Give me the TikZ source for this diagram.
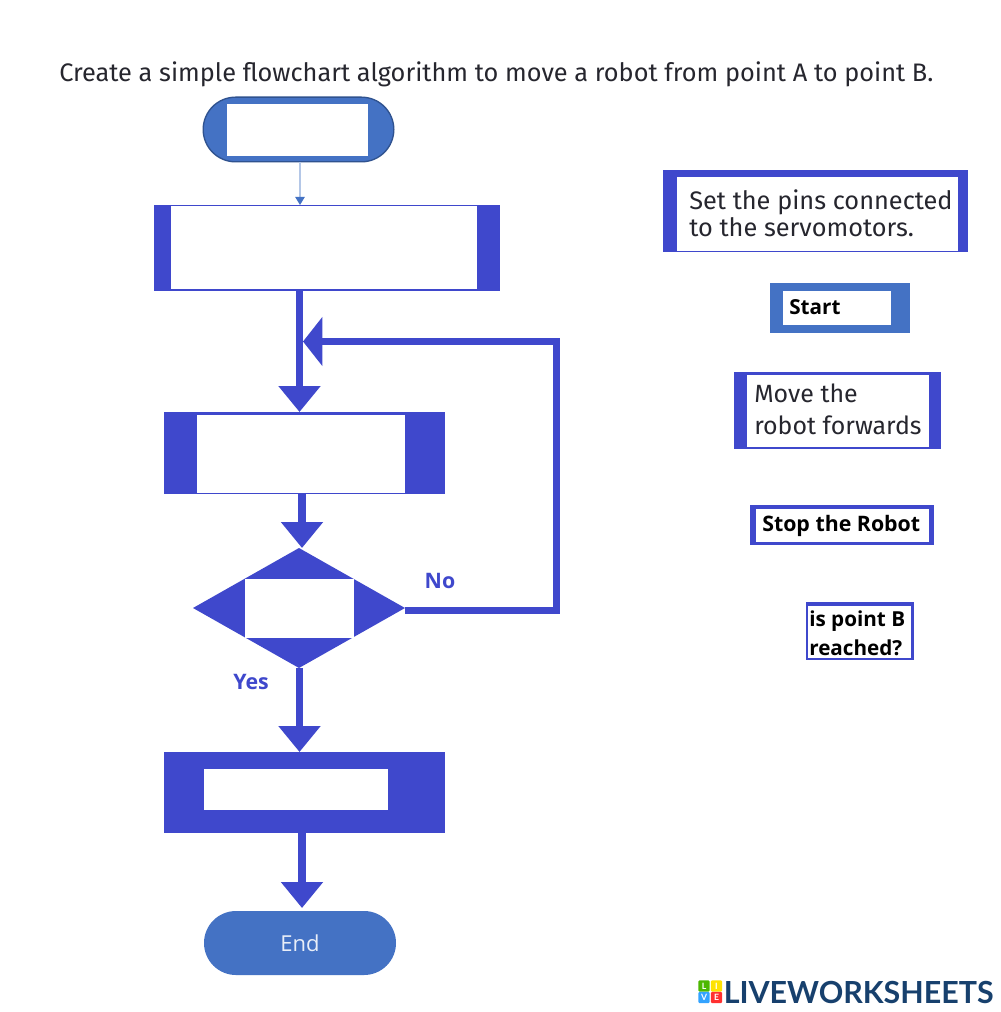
\documentclass[tikz,border=0pt]{standalone}
\usepackage{fontspec}
\setmainfont{Fira Sans}
\newfontfamily\boldui{Open Sans}
\newfontfamily\logofont{Lato}
\usetikzlibrary{shapes.geometric,shapes.misc,arrows.meta}
\definecolor{indigo}{HTML}{3F48CC}
\definecolor{steel}{HTML}{4472C4}
\definecolor{steeldark}{HTML}{2F528F}
\definecolor{palearrow}{HTML}{B4C7E7}
\definecolor{ink}{HTML}{26262E}
\definecolor{logoblue}{HTML}{17406D}
\begin{document}
\begin{tikzpicture}[x=0.75pt,y=-0.75pt,
  pane/.style={draw=none,fill=indigo,inner sep=0pt,outer sep=0pt,rectangle},
  steelpane/.style={pane,fill=steel},
  hole/.style={fill=white,draw=none,inner sep=0pt,outer sep=0pt,rectangle},
  flow/.style={draw=indigo,line width=5.4pt,-{Triangle[length=19.5pt,width=30.5pt]},fill=indigo},
  looparrow/.style={draw=indigo,line width=5.2pt,line join=miter,-{Triangle[length=14.5pt,width=36pt]}},
  dintext/.style={anchor=west,align=left,text=ink,inner sep=0pt,font=\fontsize{19pt}{20.4pt}\selectfont},
  uibold/.style={anchor=west,align=left,text=black,inner sep=0pt,font=\boldui\bfseries\fontsize{15.5pt}{22pt}\selectfont},
  branch/.style={text=indigo,inner sep=0pt,font=\boldui\bfseries\fontsize{16pt}{18pt}\selectfont},
  tile/.style={inner sep=0pt,minimum size=8.6pt,rounded corners=1pt,text=white,font=\logofont\bfseries\fontsize{6.5pt}{7pt}\selectfont}
]
\useasboundingbox (0,0) rectangle (1000,1012);
\fill[white] (0,0) rectangle (1000,1012);

% title
\node[anchor=base west,inner sep=0pt,text=ink,font=\fontsize{19pt}{22pt}\selectfont] (title) at (59,82)
  {Create a simple flowchart algorithm to move a robot from point A to point B.};

% start
\node[rounded rectangle,fill=steel,draw=steeldark,line width=1pt,inner sep=0pt,outer sep=0pt,
  minimum width=143pt,minimum height=48.5pt] (start) at (298.5,129.5) {};
\node[hole,minimum width=105.7pt,minimum height=39pt] (startin) at (297.5,130) {};

% box 1
\node[pane,minimum width=259.5pt,minimum height=64.5pt] (pins) at (327,248) {};
\node[hole,minimum width=229.5pt,minimum height=62.2pt] (pinsin) at (324,247.5) {};

% box 2
\node[pane,minimum width=210.7pt,minimum height=61.5pt] (move) at (304.5,453) {};
\node[hole,minimum width=156pt,minimum height=58.5pt] (movein) at (301,454) {};

% decision
\node[diamond,fill=indigo,draw=none,inner sep=0pt,outer sep=0pt,aspect=1.767,
  minimum width=159pt,minimum height=90pt] (dec) at (299,608) {};
\node[hole,minimum width=81.7pt,minimum height=44.2pt] (decin) at (299.5,608.5) {};

% box 3
\node[pane,minimum width=210.7pt,minimum height=60.7pt] (stop) at (304.5,792.5) {};
\node[hole,minimum width=138pt,minimum height=30.7pt] (stopin) at (296,789.5) {};

% end
\node[rounded rectangle,fill=steel,draw=none,inner sep=0pt,outer sep=0pt,
  minimum width=144pt,minimum height=48pt,text=white!88!steel,
  font=\boldui\fontsize{16.5pt}{18pt}\selectfont] (end) at (300,943) {End};

% connectors
\coordinate (startout) at (300,162);
\draw[palearrow,line width=1pt,-{Triangle[length=6pt,width=7pt,color=steel]}]
  (startout) -- (pins.north -| startout);
\coordinate (pinsout) at (299.5,291);
\coordinate (moveinlet) at (299.5,412);
\draw[flow] (pinsout) -- (moveinlet);
\coordinate (moveout) at (302,494);
\draw[flow] (moveout) -- (dec.north -| moveout);
\coordinate (decout) at (299.5,668);
\coordinate (stopinlet) at (299.5,752);
\draw[flow] (decout) -- (stopinlet);
\coordinate (stopout) at (302,833);
\coordinate (endinlet) at (302,908);
\draw[flow] (stopout) -- (endinlet);
\coordinate (loopcorner) at (556.5,610.5);
\coordinate (looptop) at (556.5,341.5);
\coordinate (merge) at (303,341.5);
\draw[looparrow] (dec.east |- loopcorner) -- (loopcorner) -- (looptop) -- (merge);

% branch labels
\node[branch] (nolabel) at (440,581) {No};
\node[branch] (yeslabel) at (251,682) {Yes};

% answer boxes
\node[pane,minimum width=228.7pt,minimum height=61.5pt] (a1) at (815.5,211) {};
\node[hole,minimum width=210.7pt,minimum height=55.5pt] (a1in) at (817.5,214) {};
\node[dintext] (a1text) at (689,213.5) {Set the pins connected\\to the servomotors.};

\node[steelpane,minimum width=105pt,minimum height=37.5pt] (a2) at (840,308) {};
\node[hole,minimum width=81pt,minimum height=25.5pt] (a2in) at (837,308) {};
\node[uibold] (a2text) at (789,307.5) {Start};

\node[pane,minimum width=155.2pt,minimum height=57.7pt] (a3) at (837.5,410.5) {};
\node[hole,minimum width=136.5pt,minimum height=54pt] (a3in) at (838,411) {};
\node[dintext,font=\fontsize{18.7pt}{24pt}\selectfont] (a3text) at (754,409.5) {Move the\\robot forwards};

\node[pane,minimum width=138pt,minimum height=30pt] (a4) at (842,525) {};
\node[hole,minimum width=129.7pt,minimum height=24.7pt] (a4in) at (842.5,525.5) {};
\node[uibold,font=\boldui\bfseries\fontsize{16pt}{22pt}\selectfont] (a4text) at (762,525.5) {Stop the Robot};

\node[pane,minimum width=81pt,minimum height=43.5pt] (a5) at (860,631) {};
\node[hole,minimum width=77.6pt,minimum height=39pt] (a5in) at (859.5,632) {};
\node[uibold] (a5text) at (809,633) {is point B\\reached?};

% logo
\node[tile,fill=green!60!black!70!yellow] (tl) at (704,986) {L};
\node[tile,fill=yellow!85!orange] (ti) at (716.5,986) {I};
\node[tile,fill=blue!45!cyan!80] (tv) at (704,997.5) {V};
\node[tile,fill=red!75!pink] (te) at (716.5,997.5) {E};
\node[anchor=base west,inner sep=0pt,text=logoblue,font=\logofont\bfseries\fontsize{22.8pt}{26pt}\selectfont] (logo) at (723.5,1003) {LIVEWORKSHEETS};
\end{tikzpicture}
\end{document}
